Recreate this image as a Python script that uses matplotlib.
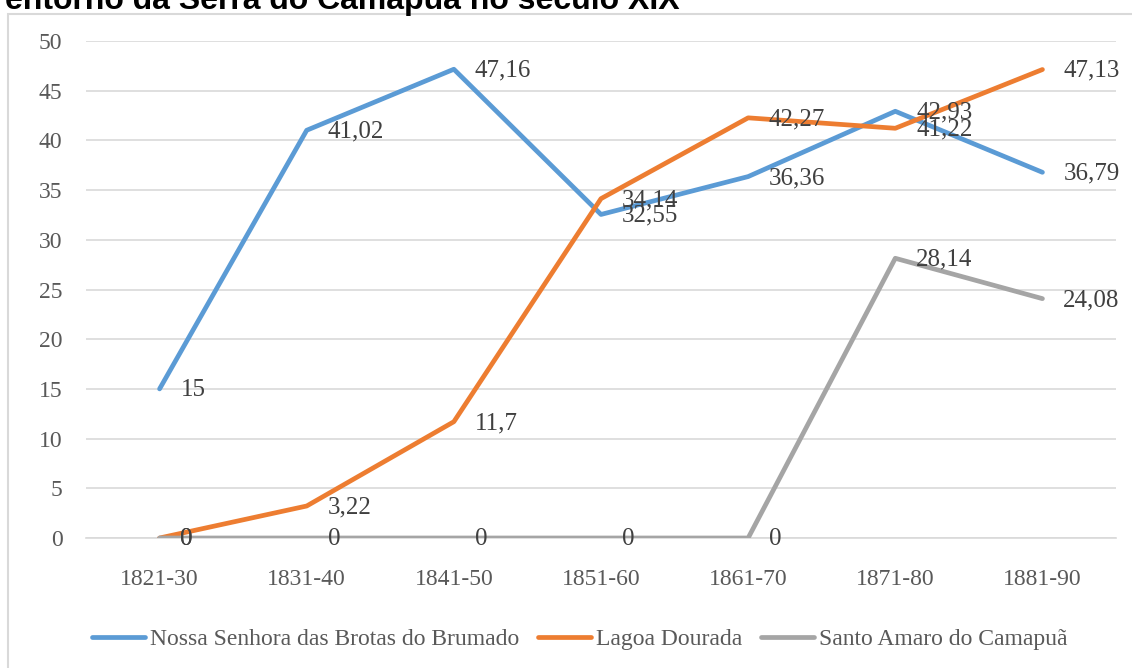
import matplotlib.pyplot as plt
from matplotlib.patches import Rectangle

# Chart data
periods = ['1821-30', '1831-40', '1841-50', '1851-60', '1861-70', '1871-80', '1881-90']
brotas = [15, 41.02, 47.16, 32.55, 36.36, 42.93, 36.79]
lagoa = [0, 3.22, 11.7, 34.14, 42.27, 41.22, 47.13]
santo_amaro = [0, 0, 0, 0, 0, 28.14, 24.08]

series_names = ['Nossa Senhora das Brotas do Brumado', 'Lagoa Dourada', 'Santo Amaro do Camapuã']
colors = ['#5B9BD5', '#ED7D31', '#A5A5A5']

plt.rcParams['font.family'] = ['Liberation Serif', 'DejaVu Serif']

fig = plt.figure(figsize=(11.32, 6.68), dpi=100)

# Chart border
fig.patches.append(Rectangle((8 / 1132, -0.01), 1.1, 1 - 14 / 668 + 0.01,
                             transform=fig.transFigure, fill=False,
                             edgecolor='#D9D9D9', linewidth=1.5))

# Cropped title (top part falls outside the image)
fig.text(5 / 1132, 1 - 9 / 668, 'entorno da Serra do Camapuã no século XIX',
         fontsize=23, fontweight='bold', family='Liberation Sans',
         va='baseline', ha='left', color='black')

ax = fig.add_axes([86 / 1132, 1 - 538 / 668, (1116 - 86) / 1132, (538 - 41) / 668])
x = range(len(periods))

def label_fmt(v):
    s = ('%.2f' % v).rstrip('0').rstrip('.')
    return s.replace('.', ',')

for vals, name, col in zip([brotas, lagoa, santo_amaro], series_names, colors):
    ax.plot(x, vals, color=col, linewidth=3.4, label=name, solid_capstyle='round',
            solid_joinstyle='round', zorder=3)

for vals in [brotas, lagoa, santo_amaro]:
    for i, v in enumerate(vals):
        ax.annotate(label_fmt(v), (i, v), xytext=(15, -1), textcoords='offset points',
                    ha='left', va='center', fontsize=18, color='#404040', zorder=4)

ax.set_xlim(-0.5, len(periods) - 0.5)
ax.set_ylim(0, 50)
ax.set_yticks(range(0, 51, 5))
ax.set_xticks(list(x))
ax.set_xticklabels(periods)
ax.grid(axis='y', color='#D9D9D9', linewidth=1.2)
ax.set_axisbelow(True)
for s in ['top', 'right', 'left']:
    ax.spines[s].set_visible(False)
ax.spines['bottom'].set_color('#D9D9D9')
ax.spines['bottom'].set_linewidth(1.2)
ax.tick_params(axis='both', length=0, labelsize=17, labelcolor='#595959')
ax.tick_params(axis='x', pad=22)
ax.tick_params(axis='y', pad=17)

ax.legend(loc='center', bbox_to_anchor=(0.4796, -(639 - 538) / 497), ncol=3,
          frameon=False, fontsize=17, labelcolor='#595959', handlelength=2.25,
          handletextpad=0.2, columnspacing=0.8)

fig.savefig('out.png', dpi=100)
